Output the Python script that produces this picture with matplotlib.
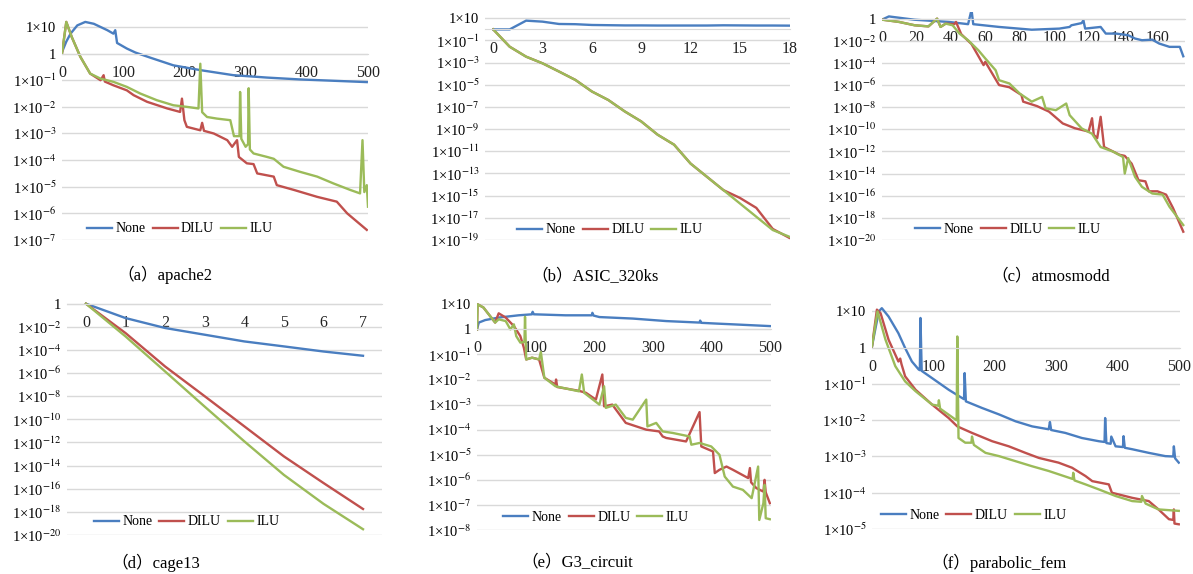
import matplotlib
matplotlib.use('Agg')
import matplotlib.pyplot as plt
from matplotlib.ticker import FixedLocator, FuncFormatter, NullLocator
import numpy as np

plt.rcParams['font.family'] = ['Liberation Serif', 'Noto Sans CJK SC']
plt.rcParams['mathtext.fontset'] = 'stix'

W, H = 1193, 574
BLUE, RED, GREEN = '#4A7EC0', '#C0504D', '#9BBB59'
GRID = '#D9D9D9'
names = ['None', 'DILU', 'ILU']

# residuals are stored as log10 values

# (a) apache2
a_none_x = [0, 7, 14, 25, 38, 52, 63, 74, 84, 87, 90, 106, 120, 144, 182, 226, 280, 335, 389, 444, 498]
a_none = [0.06, 0.45, 0.75, 1.06, 1.19, 1.12, 1.0, 0.88, 0.75, 0.88, 0.4, 0.19, 0.04, -0.15, -0.44,
          -0.62, -0.81, -0.9, -0.97, -1.02, -1.07]
a_dilu_x = [0, 7, 16, 30, 46, 63, 68, 70, 84, 106, 117, 139, 172, 193, 196, 200, 204, 226, 229, 232,
            248, 270, 278, 286, 289, 302, 313, 319, 346, 351, 379, 417, 449, 466, 498]
a_dilu = [0, 1.19, 0.62, -0.12, -0.75, -1.0, -0.81, -1.05, -1.19, -1.38, -1.56, -1.81, -2.06, -2.19,
          -1.69, -2.5, -2.75, -2.88, -2.6, -2.9, -3.0, -3.25, -3.5, -3.25, -3.88, -4.12, -4.15, -4.5,
          -4.62, -4.94, -5.12, -5.38, -5.56, -6.0, -6.62]
a_ilu_x = [0, 7, 16, 30, 46, 63, 84, 106, 128, 155, 182, 204, 223, 226, 229, 237, 253, 275, 281, 290,
           291, 293, 300, 304, 305, 307, 313, 335, 346, 362, 389, 417, 444, 471, 487, 491, 494, 498, 500]
a_ilu = [0, 1.19, 0.62, -0.12, -0.75, -0.94, -1.06, -1.25, -1.5, -1.75, -1.94, -2.0, -2.06, -0.38,
         -2.2, -2.38, -2.44, -2.5, -3.1, -3.1, -1.44, -3.2, -3.5, -3.4, -1.3, -3.6, -3.75, -3.88,
         -3.95, -4.25, -4.44, -4.62, -4.88, -5.12, -5.25, -3.25, -5.2, -4.94, -5.75]

# (b) ASIC_320ks
b_x = list(range(19))
b_none = [0, 0, 0.79, 0.7, 0.49, 0.47, 0.4, 0.38, 0.36, 0.36, 0.35, 0.35, 0.35, 0.35, 0.37, 0.36,
          0.35, 0.35, 0.34]
b_dilu = [0, -1.56, -2.46, -3.06, -3.8, -4.56, -5.6, -6.37, -7.4, -8.3, -9.5, -10.4, -12.1, -13.3,
          -14.5, -15.2, -16.1, -18.0, -18.8]
b_ilu = [0, -1.56, -2.46, -3.06, -3.8, -4.56, -5.6, -6.37, -7.4, -8.3, -9.5, -10.4, -12.1, -13.3,
         -14.5, -15.7, -16.9, -18.1, -18.7]

# (c) atmosmodd
c_none_x = [0, 4, 19, 39, 50, 52, 53, 68, 87, 103, 109, 110, 116, 117, 118, 127, 130, 136, 143, 147,
            151, 157, 161, 167, 173, 175]
c_none = [-0.09, 0.2, -0.1, -0.3, -0.5, 0.8, -0.5, -0.75, -1.0, -0.9, -0.75, -0.6, -0.4, -0.15, -0.9,
          -0.75, -1.35, -1.35, -1.5, -1.8, -1.95, -1.9, -2.25, -2.55, -2.55, -3.4]
c_dilu_x = [0, 10, 19, 27, 32, 34, 37, 42, 43, 46, 52, 59, 60, 68, 74, 81, 82, 90, 97, 105, 112, 120,
            122, 123, 125, 127, 129, 138, 141, 145, 149, 153, 155, 160, 165, 169, 175]
c_dilu = [-0.09, -0.3, -0.6, -0.7, 0.0, -0.75, -0.45, -0.5, -0.3, -1.4, -2.3, -4.2, -3.9, -6.0, -6.2,
          -6.9, -7.5, -7.9, -8.4, -9.47, -9.9, -10.2, -9.0, -10.5, -10.8, -8.87, -11.6, -12.3, -12.4,
          -13.1, -14.6, -14.7, -15.6, -15.6, -15.9, -17.1, -19.25]
c_ilu_x = [0, 10, 19, 27, 32, 34, 37, 41, 45, 50, 56, 60, 66, 68, 74, 80, 87, 93, 95, 101, 107, 109,
           116, 122, 127, 134, 140, 141, 143, 147, 151, 157, 163, 167, 175]
c_ilu = [-0.09, -0.3, -0.6, -0.7, 0.0, -0.75, -0.45, -0.6, -1.35, -1.95, -2.86, -3.6, -4.66, -5.56,
         -5.86, -6.77, -7.5, -7.07, -8.1, -8.27, -7.67, -8.72, -9.92, -10.4, -11.6, -12.0, -12.5,
         -14.0, -12.6, -14.3, -15.2, -15.8, -15.9, -17.0, -18.65]

# (d) cage13
d_x = [0, 1, 2, 3, 4, 5, 6, 7]
d_none = [0, -1.24, -2.1, -2.68, -3.26, -3.69, -4.13, -4.5]
d_dilu = [0, -2.54, -5.43, -8.0, -10.6, -13.2, -15.5, -17.75]
d_ilu = [0, -2.83, -5.86, -8.9, -11.9, -14.8, -17.3, -19.5]

# (e) G3_circuit
e_none_x = [0, 3, 14, 37, 71, 94, 95, 97, 151, 196, 197, 199, 209, 266, 323, 380, 381, 383, 409, 437, 500]
e_none = [0, 0.27, 0.37, 0.47, 0.56, 0.6, 0.7, 0.6, 0.56, 0.56, 0.66, 0.55, 0.49, 0.43, 0.33, 0.27,
          0.35, 0.26, 0.23, 0.2, 0.13]
e_dilu_x = [0, 1, 11, 31, 37, 49, 63, 74, 80, 84, 94, 106, 115, 134, 135, 137, 174, 186, 203, 214,
            217, 231, 254, 289, 311, 317, 323, 357, 380, 383, 403, 406, 414, 426, 437, 463, 466, 468,
            477, 489, 491, 493, 500]
e_dilu = [0, 1.0, 0.87, 0.27, 0.64, 0.47, 0.13, -0.27, -0.73, -1.2, -1.13, -1.2, -1.93, -2.2, -2.0,
          -2.3, -2.45, -2.53, -2.8, -1.8, -3.07, -3.0, -3.73, -4.0, -4.07, -4.27, -4.33, -4.47, -3.3,
          -4.67, -4.87, -5.73, -5.6, -5.47, -5.6, -5.93, -5.53, -6.1, -6.33, -6.47, -6.0, -6.5, -6.93]
e_ilu_x = [0, 1, 11, 31, 37, 49, 57, 63, 67, 74, 81, 82, 84, 94, 106, 109, 115, 134, 174, 179, 183,
           209, 217, 220, 237, 254, 266, 289, 291, 306, 317, 334, 363, 366, 380, 400, 414, 423, 437,
           454, 469, 480, 482, 489, 491, 493, 500]
e_ilu = [0, 1.0, 0.87, 0.27, 0.4, 0.33, 0.0, 0.2, -0.27, -0.53, -0.5, 0.5, -1.2, -1.13, -1.2, -0.9,
         -1.93, -2.27, -2.47, -1.8, -2.53, -3.0, -2.27, -3.13, -3.0, -3.53, -3.6, -2.8, -3.87, -3.73,
         -4.07, -4.13, -4.27, -4.6, -4.53, -4.67, -5.0, -5.87, -6.27, -6.4, -6.73, -5.47, -7.6, -6.93,
         -6.2, -7.53, -7.57]

# (f) parabolic_fem
f_none_x = [0, 11, 16, 27, 43, 54, 65, 76, 78, 79, 81, 98, 125, 147, 150, 151, 153, 179, 207, 234,
            261, 288, 290, 292, 315, 342, 370, 379, 380, 382, 389, 390, 397, 409, 410, 412, 424, 451,
            478, 491, 492, 494, 500]
f_none = [0.04, 1.0, 1.09, 0.86, 0.4, -0.01, -0.38, -0.6, -0.62, 0.82, -0.64, -0.84, -1.16, -1.39,
          -1.42, -0.7, -1.48, -1.66, -1.84, -2.03, -2.17, -2.25, -2.05, -2.27, -2.35, -2.49, -2.58,
          -2.6, -1.94, -2.63, -2.65, -2.45, -2.72, -2.74, -2.44, -2.76, -2.8, -2.9, -2.99, -3.0,
          -2.72, -3.05, -3.17]
f_dilu_x = [0, 8, 14, 27, 43, 46, 48, 54, 71, 98, 125, 139, 163, 196, 223, 250, 272, 304, 326, 348,
            359, 386, 391, 424, 451, 467, 484, 491, 492, 493, 500]
f_dilu = [0.04, 1.05, 0.95, 0.22, -0.38, -0.3, -0.45, -0.79, -1.16, -1.57, -1.94, -2.17, -2.35, -2.58,
          -2.72, -2.9, -3.04, -3.17, -3.31, -3.54, -3.68, -3.77, -4.0, -4.14, -4.23, -4.46, -4.73,
          -4.75, -4.46, -4.85, -4.87]
f_ilu_x = [0, 9, 22, 38, 54, 71, 98, 108, 109, 111, 136, 138, 139, 141, 152, 162, 163, 166, 185, 207,
           234, 261, 288, 327, 328, 330, 348, 370, 397, 424, 439, 440, 446, 467, 500]
f_ilu = [0.04, 1.0, 0.22, -0.51, -0.93, -1.2, -1.57, -1.6, -1.45, -1.68, -1.98, -2.0, 0.31, -2.49,
         -2.62, -2.62, -2.45, -2.68, -2.9, -2.99, -3.13, -3.27, -3.4, -3.62, -3.45, -3.66, -3.77,
         -3.91, -4.09, -4.23, -4.25, -4.09, -4.3, -4.46, -4.5]


def ylab(v, pos):
    e = int(round(np.log10(v)))
    if e == 0:
        return '1'
    if e == 1:
        return '1×10'
    return '1×10$^{%d}$' % e


def panel(box, xlim, ylim, xticks, yexps, series, caption, cap_xy, leg_xy):
    l, t, r, b = box
    ax = fig.add_axes([l / W, 1 - b / H, (r - l) / W, (b - t) / H])
    ax.set_yscale('log')
    for (x, y), c, n in zip(series, [BLUE, RED, GREEN], names):
        ax.plot(x, 10.0 ** np.array(y), color=c, lw=1.7, label=n)
    ax.set_xlim(*xlim)
    ax.set_ylim(10.0 ** ylim[0], 10.0 ** ylim[1])
    ax.set_xticks(xticks)
    ax.yaxis.set_major_locator(FixedLocator(10.0 ** np.array(yexps, dtype=float)))
    ax.yaxis.set_minor_locator(NullLocator())
    ax.yaxis.set_major_formatter(FuncFormatter(ylab))
    ax.grid(axis='y', color=GRID, lw=1)
    ax.set_axisbelow(True)
    for s in ['top', 'right', 'left']:
        ax.spines[s].set_visible(False)
    ax.spines['bottom'].set_position(('data', 1.0))
    ax.spines['bottom'].set_color(GRID)
    ax.tick_params(axis='x', length=0, pad=8, labelsize=11.5, colors='#222222')
    ax.tick_params(axis='y', length=0, pad=4, labelsize=10.5)
    ax.legend(loc='center', bbox_to_anchor=leg_xy, ncol=3, frameon=False, fontsize=10,
              handlelength=1.8, handletextpad=0.25, columnspacing=0.5, borderpad=0)
    fig.text(cap_xy[0] / W, 1 - cap_xy[1] / H, caption, ha='center', va='center', fontsize=12)
    return ax


fig = plt.figure(figsize=(W / 100, H / 100), dpi=100)

panel((62, 19, 368, 240), (0, 500), (-7, 1.3), range(0, 501, 100), range(-7, 2),
      [(a_none_x, a_none), (a_dilu_x, a_dilu), (a_ilu_x, a_ilu)],
      '（a）apache2', (165, 275), (0.385, 0.05))
panel((485, 15, 790, 240), (-0.5, 18.05), (-19, 1.3), range(0, 19, 3), range(-19, 2, 2),
      [(b_x, b_none), (b_x, b_dilu), (b_x, b_ilu)],
      '（b）ASIC_320ks', (595, 277), (0.41, 0.045))
panel((882, 12, 1185, 240), (0, 176), (-20, 0.6), range(0, 161, 20), range(-20, 1, 2),
      [(c_none_x, c_none), (c_dilu_x, c_dilu), (c_ilu_x, c_ilu)],
      '（c）atmosmodd', (1051, 276), (0.416, 0.045))
panel((67, 302, 382, 535), (-0.48, 7.48), (-20, 0.15), range(0, 8), range(-20, 1, 2),
      [(d_x, d_none), (d_x, d_dilu), (d_x, d_ilu)],
      '（d）cage13', (156, 563), (0.38, 0.056))
panel((477, 298, 771, 530), (0, 502), (-8, 1.25), range(0, 501, 100), range(-8, 2),
      [(e_none_x, e_none), (e_dilu_x, e_dilu), (e_ilu_x, e_ilu)],
      '（e）G3_circuit', (577, 563), (0.405, 0.053))
panel((872, 306, 1180, 529), (0, 502), (-5, 1.15), range(0, 501, 100), range(-5, 2),
      [(f_none_x, f_none), (f_dilu_x, f_dilu), (f_ilu_x, f_ilu)],
      '（f）parabolic_fem', (999, 563), (0.33, 0.06))

fig.savefig('out.png', dpi=100)
